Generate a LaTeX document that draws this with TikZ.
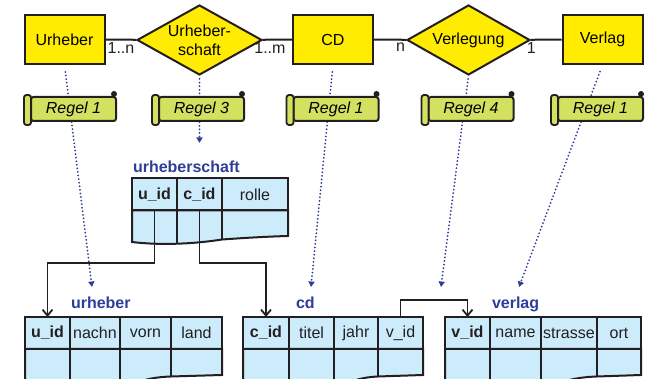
\documentclass[tikz,border=0pt]{standalone}
\usepackage{fontspec}
\setmainfont{Liberation Sans}
\usetikzlibrary{shapes.geometric, arrows.meta, positioning}

\definecolor{erYellow}{RGB}{255,236,0}
\definecolor{regelGreen}{RGB}{212,224,96}
\definecolor{tabBlue}{RGB}{204,236,252}
\definecolor{titleBlue}{RGB}{46,61,152}
\definecolor{lineGray}{RGB}{35,31,32}

% scroll end pieces of a "Regel" node
\newcommand{\regelrolle}[1]{%
  \draw[roll] ([xshift=-6pt,yshift=1pt]#1.north west) rectangle
              ([xshift=1pt,yshift=-3pt]#1.south west);
  \fill[lineGray] ([xshift=-3pt,yshift=2pt]#1.north east) circle (3pt);}

\begin{document}
\begin{tikzpicture}[x=1pt, y=-1pt, font=\fontsize{16}{19}\selectfont,
    line width=2pt, draw=lineGray,
    entity/.style={draw=lineGray, fill=erYellow, minimum width=80pt,
                   minimum height=49pt, inner sep=0pt},
    relation/.style={diamond, draw=lineGray, fill=erYellow, inner sep=0pt},
    regel/.style={draw=lineGray, fill=regelGreen, rounded corners=2.5pt,
                  minimum width=85pt, minimum height=24pt, inner sep=0pt,
                  font=\fontsize{16}{19}\selectfont\itshape},
    roll/.style={draw=lineGray, fill=regelGreen, line width=1.8pt,
                 rounded corners=2.5pt},
    card/.style={below, inner sep=2pt, text=lineGray},
    hcell/.style={draw=lineGray, fill=tabBlue, minimum height=32pt,
                  inner sep=0pt, outer sep=0pt, text=lineGray},
    lowrow/.style={draw=lineGray, fill=tabBlue},
    title/.style={anchor=base west, text=titleBlue, inner sep=0pt,
                  font=\fontsize{16}{19}\selectfont\bfseries},
    rule/.style={draw=titleBlue, line width=2pt, line cap=round,
                 dash pattern=on 0pt off 3.6pt,
                 -{Triangle[length=5.5pt,width=6pt]}},
    fkey/.style={draw=lineGray, line width=1.8pt,
                 -{Straight Barb[length=6pt,width=10pt]}}]
  \useasboundingbox (0,0) rectangle (649,379);
  \clip (0,0) rectangle (649,379);

  % ER diagram
  \node[entity] (urheber) at (64.5,39.5) {Urheber};
  \node[relation, minimum width=125pt, minimum height=70pt,
        label={[align=center]center:Urheber-\\schaft}] (urheberschaft) at (199.5,40) {};
  \node[entity] (cd) at (333,39.5) {CD};
  \node[relation, minimum width=123pt, minimum height=70pt,
        label={center:Verlegung}] (verlegung) at (468.5,40) {};
  \node[entity] (verlag) at (602.5,39.5) {Verlag};

  \draw (urheber) -- node[card]{1..n} (urheberschaft);
  \draw (urheberschaft) -- node[card, pos=0.25]{1..m} (cd);
  \draw (cd) -- node[card, pos=0.82]{n} (verlegung);
  \draw (verlegung) -- node[card, pos=0.02]{1} (verlag);

  % mapping rules
  \coordinate (uh-in) at (92,287);
  \coordinate (us-in) at (199.5,143);
  \coordinate (cd-in) at (311,287);
  \coordinate (vg-in) at (441,287);
  \coordinate (vl-in) at (519,287);
  \draw[rule, shorten <=7pt] (urheber.south) -- (uh-in);
  \draw[rule, shorten <=3pt] (urheberschaft.south) -- (us-in);
  \draw[rule, shorten <=7pt] (cd.south) -- (cd-in);
  \draw[rule, shorten <=3pt] (verlegung.south) -- (vg-in);
  \draw[rule, shorten <=7pt] (verlag.south) -- (vl-in);

  \node[regel] (regel-uh) at (73.5,109) {Regel 1};
  \node[regel] (regel-us) at (201.5,109) {Regel 3};
  \node[regel] (regel-cd) at (336,109) {Regel 1};
  \node[regel] (regel-vg) at (471,109) {Regel 4};
  \node[regel] (regel-vl) at (600.5,109) {Regel 1};
  \regelrolle{regel-uh}
  \regelrolle{regel-us}
  \regelrolle{regel-cd}
  \regelrolle{regel-vg}
  \regelrolle{regel-vl}

  % table urheberschaft
  \node[hcell, minimum width=45pt] (us-uid) at (154.5,194.5) {\textbf{u\_id}};
  \node[hcell, minimum width=45pt, right=0pt of us-uid] (us-cid) {\textbf{c\_id}};
  \node[hcell, minimum width=66pt, right=0pt of us-cid] (us-rolle) {rolle};
  \draw[lowrow] (us-uid.south west) -- (132,242)
    .. controls (165,246) and (200,243) .. (222,239.5)
    .. controls (250,237.5) and (270,236.5) .. (288,236)
    -- (us-rolle.south east) -- cycle;
  \draw (us-cid.south west) -- (177,243.6);
  \draw (us-rolle.south west) -- (222,239.5);
  \node[title] (t-us) at ([yshift=6pt]us-uid.north west) {urheberschaft};

  % table urheber
  \node[hcell, minimum width=45pt] (uh-uid) at (47.5,333) {\textbf{u\_id}};
  \node[hcell, minimum width=50pt, right=0pt of uh-uid] (uh-nachn) {nachn};
  \node[hcell, minimum width=51pt, right=0pt of uh-nachn] (uh-vorn) {vorn};
  \node[hcell, minimum width=51pt, right=0pt of uh-vorn] (uh-land) {land};
  \draw[lowrow] (uh-uid.south west) -- (25,392) -- (120,392)
    .. controls (135,380) and (155,377) .. (171,376.5)
    -- (222,375) -- (uh-land.south east) -- cycle;
  \draw (uh-nachn.south west) -- (70,392);
  \draw (uh-vorn.south west) -- (120,392);
  \draw (uh-land.south west) -- (171,376.5);
  \node[title] (t-uh) at (70,309) {urheber};

  % table cd
  \node[hcell, minimum width=46pt] (cd-cid) at (266,333) {\textbf{c\_id}};
  \node[hcell, minimum width=45pt, right=0pt of cd-cid] (cd-titel) {titel};
  \node[hcell, minimum width=44pt, right=0pt of cd-titel] (cd-jahr) {jahr};
  \node[hcell, minimum width=45pt, right=0pt of cd-jahr] (cd-vid) {v\_id};
  \draw[lowrow] (cd-cid.south west) -- (243,392) -- (334,392)
    .. controls (348,380) and (365,377) .. (378,376.5)
    -- (423,375) -- (cd-vid.south east) -- cycle;
  \draw (cd-titel.south west) -- (289,392);
  \draw (cd-jahr.south west) -- (334,392);
  \draw (cd-vid.south west) -- (378,376.5);
  \node[title] (t-cd) at (295,309) {cd};

  % table verlag
  \node[hcell, minimum width=45pt] (vl-vid) at (467.5,333) {\textbf{v\_id}};
  \node[hcell, minimum width=51pt, right=0pt of vl-vid] (vl-name) {name};
  \node[hcell, minimum width=56pt, right=0pt of vl-name] (vl-strasse) {strasse};
  \node[hcell, minimum width=44pt, right=0pt of vl-strasse] (vl-ort) {ort};
  \draw[lowrow] (vl-vid.south west) -- (445,392) -- (541,392)
    .. controls (560,380) and (580,377) .. (597,376.5)
    -- (641,375) -- (vl-ort.south east) -- cycle;
  \draw (vl-name.south west) -- (490,392);
  \draw (vl-strasse.south west) -- (541,392);
  \draw (vl-ort.south west) -- (597,376.5);
  \node[title] (t-vl) at (491,309) {verlag};

  % foreign keys
  \coordinate (j-us) at (0,263);
  \coordinate (j-cd) at (0,300);
  \draw[fkey] (us-uid.south) -- (us-uid.south |- j-us) -| (uh-uid.north);
  \draw[fkey] (us-cid.south) -- (us-cid.south |- j-us) -| (cd-cid.north);
  \draw[fkey] (cd-vid.north) -- (cd-vid.north |- j-cd) -| (vl-vid.north);
\end{tikzpicture}
\end{document}
